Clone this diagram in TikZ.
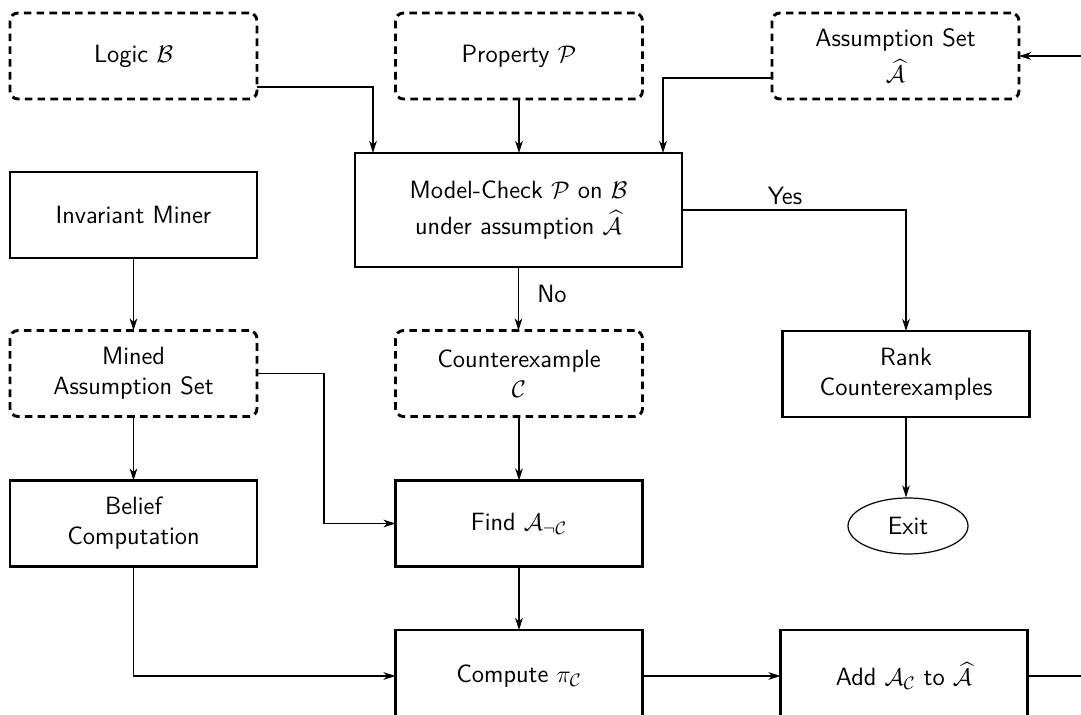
\documentclass[tikz,border=0pt]{standalone}
\usepackage{amsmath,amssymb}
\usetikzlibrary{arrows.meta,shapes.geometric}
\begin{document}
\begin{tikzpicture}[x=0.5pt,y=-0.5pt,
  font=\sffamily\fontsize{12.5}{15}\selectfont,
  dbox/.style={draw, line width=1.45pt, dash pattern=on 3.8pt off 2.6pt,
    rounded corners=4pt, minimum width=123.5pt, minimum height=43pt,
    align=center, inner sep=0pt, outer sep=0pt},
  sbox/.style={draw, line width=1.45pt, minimum width=123.5pt, minimum height=43pt,
    align=center, inner sep=0pt, outer sep=0pt},
  conn/.style={line width=0.6pt, -{Stealth[length=6pt,width=3.8pt,inset=1.7pt]}}]
\useasboundingbox (0,0) rectangle (1081,715);
\clip (0,0) rectangle (1081,715);

% top row
\node[dbox] (logic) at (133.5,56) {Logic $\mathcal{B}$};
\node[dbox] (prop) at (519,56) {Property $\mathcal{P}$};
\node[dbox] (asm) at (895.5,56) {Assumption Set\\[3pt] $\widehat{\mathcal{A}}$};

% second row
\node[sbox, minimum width=163.5pt, minimum height=57pt] (mc) at (518.5,210)
  {Model-Check $\mathcal{P}$ on $\mathcal{B}$\\[3pt] under assumption $\widehat{\mathcal{A}}$};
\node[sbox] (inv) at (133.5,215) {Invariant Miner};

% third row
\node[dbox] (mined) at (133.5,373.5) {Mined\\Assumption Set};
\node[dbox] (cex) at (519,373.5) {Counterexample\\ $\mathcal{C}$};
\node[sbox] (rank) at (906,374) {Rank\\Counterexamples};

% fourth row
\node[sbox] (belief) at (133.5,523.5) {Belief\\Computation};
\node[sbox] (find) at (519,523.5) {Find $\mathcal{A}_{\neg\mathcal{C}}$};
\node[draw, line width=0.6pt, ellipse, minimum width=60pt, minimum height=28pt,
  inner sep=0pt] (exit) at (908,526) {Exit};

% fifth row
\node[sbox, minimum height=46pt] (comp) at (519,676) {Compute $\pi_{\mathcal{C}}$};
\node[sbox, minimum height=46pt] (add) at (904,676) {Add $\mathcal{A}_{\mathcal{C}}$ to $\widehat{\mathcal{A}}$};

% labels
\node (yes) at (785,196) {Yes};
\node (no) at (552,294) {No};

% connectors
\draw[conn] ([yshift=6pt]logic.south east) -| ([xshift=9pt]mc.north west);
\draw[conn] (prop.south) -- (prop.south |- mc.north);
\draw[conn] ([yshift=10.5pt]asm.south west) -| ([xshift=-9.5pt]mc.north east);
\draw[conn] (mc.east) -| (rank.north);
\draw[conn] (mc.south) -- (mc.south |- cex.north);
\draw[conn] (inv.south) -- (mined.north);
\draw[conn] (mined.south) -- (belief.north);
\draw[conn] (mined.east) -- ++(67,0) |- (find.west);
\draw[conn] (cex.south) -- (find.north);
\draw[conn] (rank.south) -- (rank.south |- exit.north);
\draw[conn] (find.south) -- (comp.north);
\draw[conn] (belief.south) |- (comp.west);
\draw[conn] (comp.east) -- (add.west);
\draw[conn] (add.east) -- ++(120,0) |- (asm.east);
\end{tikzpicture}
\end{document}
